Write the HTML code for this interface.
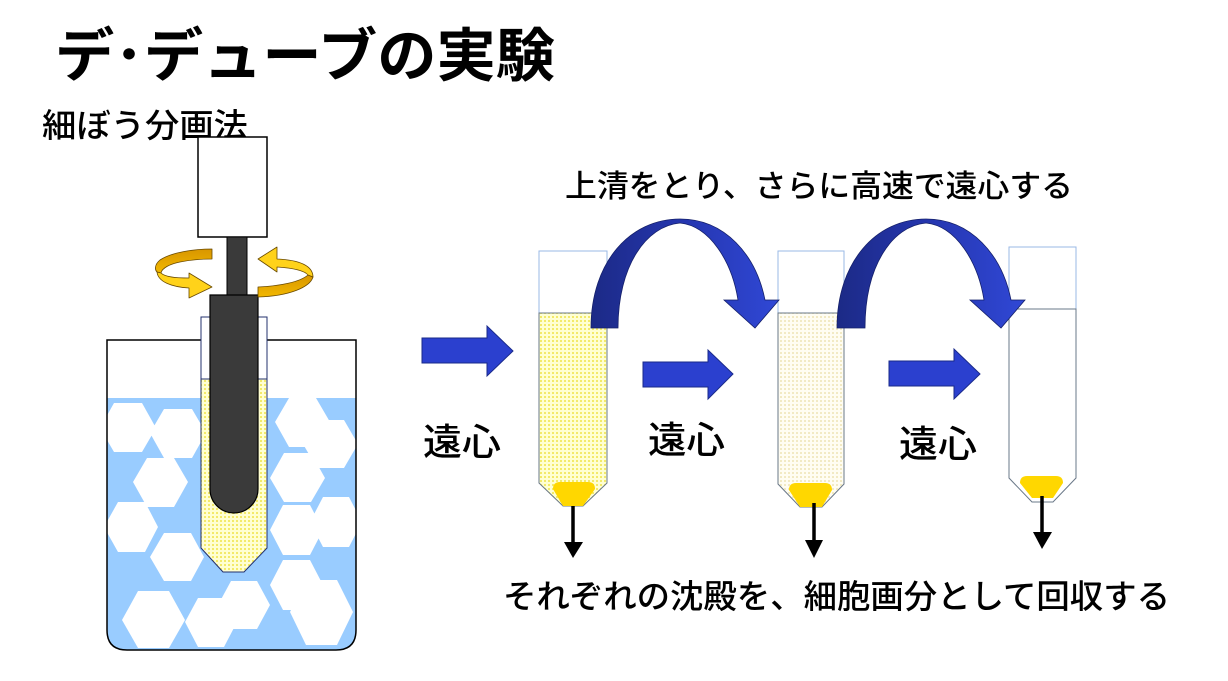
<!DOCTYPE html>
<html><head><meta charset="utf-8"><style>
html,body{margin:0;padding:0;background:#fff;}
svg{display:block;}
text{font-family:"Liberation Sans","Noto Sans CJK JP",sans-serif;fill:#000;}
.m{font-weight:500;}
</style></head><body>
<svg width="1228" height="681" viewBox="0 0 1228 681" xmlns="http://www.w3.org/2000/svg">
<defs>
<pattern id="chk" width="4" height="4" patternUnits="userSpaceOnUse"><rect width="4" height="4" fill="#ffffd2"/><rect width="2" height="2" fill="#f3ea6a"/></pattern>
<pattern id="chk2" width="4" height="4" patternUnits="userSpaceOnUse"><rect width="4" height="4" fill="#fffdf2"/><rect width="2" height="2" fill="#f2eac4"/></pattern>
<linearGradient id="arcg" x1="0" y1="0" x2="1" y2="0"><stop offset="0" stop-color="#1c2a86"/><stop offset="0.5" stop-color="#2536b0"/><stop offset="1" stop-color="#3048d6"/></linearGradient>
<linearGradient id="dg" x1="0" y1="0" x2="0" y2="1"><stop offset="0" stop-color="#d89600"/><stop offset="1" stop-color="#f2b800"/></linearGradient>
<clipPath id="bk"><path d="M107,340 L356,340 L356,630 Q356,650 336,650 L127,650 Q107,650 107,630 Z"/></clipPath>
</defs>

<!-- Titles -->
<text x="55" y="76" font-size="58" font-weight="bold" textLength="500" lengthAdjust="spacingAndGlyphs">デ･デューブの実験</text>
<text class="m" x="42" y="137" font-size="33" textLength="206" lengthAdjust="spacingAndGlyphs">細ぼう分画法</text>
<text class="m" x="565" y="197" font-size="31" textLength="508" lengthAdjust="spacingAndGlyphs">上清をとり、さらに高速で遠心する</text>
<text class="m" x="503" y="608" font-size="33" textLength="667" lengthAdjust="spacingAndGlyphs">それぞれの沈殿を、細胞画分として回収する</text>
<text class="m" x="423" y="455" font-size="37" textLength="78" lengthAdjust="spacingAndGlyphs">遠心</text>
<text class="m" x="648" y="453" font-size="37" textLength="77" lengthAdjust="spacingAndGlyphs">遠心</text>
<text class="m" x="899" y="457" font-size="37" textLength="78" lengthAdjust="spacingAndGlyphs">遠心</text>

<!-- Beaker -->
<path d="M107,340 L356,340 L356,630 Q356,650 336,650 L127,650 Q107,650 107,630 Z" fill="#fff"/>
<g clip-path="url(#bk)">
<rect x="100" y="398" width="265" height="260" fill="#99ccff"/>
<g fill="#fff">
<polygon points="100,428 114,403 142,403 156,428 142,452 114,452"/>
<polygon points="150,433 164,409 192,409 206,433 192,458 164,458"/>
<polygon points="133,482 147,458 174,458 188,482 174,507 147,507"/>
<polygon points="104,527 118,502 145,502 158,527 145,552 118,552"/>
<polygon points="150,557 164,533 191,533 204,557 191,581 164,581"/>
<polygon points="122,620 138,591 169,591 185,620 169,648 138,648"/>
<polygon points="185,622 198,598 224,598 237,622 224,647 198,647"/>
<polygon points="218,605 231,581 257,581 270,605 257,629 231,629"/>
<polygon points="275,422 289,398 316,398 330,422 316,447 289,447"/>
<polygon points="303,444 317,420 344,420 358,444 344,468 317,468"/>
<polygon points="270,478 284,453 311,453 325,478 311,502 284,502"/>
<polygon points="270,530 283,505 310,505 323,530 310,555 283,555"/>
<polygon points="310,522 323,497 349,497 362,522 349,547 323,547"/>
<polygon points="270,585 283,560 310,560 323,585 310,610 283,610"/>
<polygon points="290,612 306,580 337,580 353,612 337,645 306,645"/>
</g>
</g>
<path d="M107,340 L356,340 L356,630 Q356,650 336,650 L127,650 Q107,650 107,630 Z" fill="none" stroke="#000" stroke-width="1.5"/>

<!-- Homogenizer tube -->
<path d="M201,317 L267,317 L267,548 L244,572 L223,572 L201,548 Z" fill="#fff"/>
<path d="M201,379 L267,379 L267,548 L244,572 L223,572 L201,548 Z" fill="url(#chk)"/>
<path d="M201,317 L267,317 L267,548 L244,572 L223,572 L201,548 Z" fill="none" stroke="#23306e" stroke-width="1"/>
<line x1="201" y1="379" x2="267" y2="379" stroke="#23306e" stroke-width="1"/>

<!-- Motor & pestle -->
<rect x="198" y="137" width="69" height="100" fill="#fff" stroke="#000" stroke-width="1.5"/>
<rect x="227" y="237" width="20" height="60" fill="#3a3a3a" stroke="#000" stroke-width="1"/>
<path d="M210,295 L258,295 L258,489 A24,24 0 0 1 210,489 Z" fill="#3a3a3a" stroke="#000" stroke-width="1.2"/>

<!-- Rotation arrows -->
<g stroke="#6a4a00" stroke-width="0.8" stroke-linejoin="round">
<path d="M212,249 C195,249 172,252 160,260 C154,265 155,270 157,272 L161,273 C162,268 170,264 180,262 C190,260 200,259 212,259 Z" fill="url(#dg)"/>
<path d="M157,272 C158,282 172,287 189,288 L189,298 L212,287 L189,273 L189,278 C175,278 165,277 161,273 Z" fill="#ffd21a"/>
<path d="M258,287 C280,286 300,282 308,275 L313,277 C310,287 290,296 258,297 Z" fill="url(#dg)"/>
<path d="M313,277 C313,266 300,260 277,259 L277,247 L258,259 L277,272 L277,267 C292,268 304,270 308,275 Z" fill="#ffd21a"/>
</g>

<!-- Horizontal arrows -->
<g fill="#2b40cf" stroke="#1a2a8a" stroke-width="1">
<polygon points="422,338 487,338 487,326 513,351 487,376 487,363 422,363"/>
<polygon points="643,362 708,362 708,350 733,374 708,399 708,387 643,387"/>
<polygon points="889,361 954,361 954,349 980,374 954,399 954,386 889,386"/>
</g>

<!-- Tube 1 -->
<path d="M539,251 L607,251 L607,313 L539,313 Z" fill="#fff" stroke="#9ab8e6" stroke-width="1"/>
<path d="M539,313 L607,313 L607,483 L583,506 L563,506 L539,483 Z" fill="url(#chk)" stroke="#6a7888" stroke-width="1"/>
<path d="M553,489 Q553,482 560,482 L588,482 Q595,482 595,489 L583,506 L563,506 Z" fill="#ffd700"/>

<!-- Tube 2 -->
<path d="M778,251 L844,251 L844,313 L778,313 Z" fill="#fff" stroke="#9ab8e6" stroke-width="1"/>
<path d="M778,313 L844,313 L844,484 L822,507 L800,507 L778,484 Z" fill="url(#chk2)" stroke="#6a7888" stroke-width="1"/>
<path d="M789,490 Q789,483 796,483 L825,483 Q832,483 832,490 L822,507 L800,507 Z" fill="#ffd700"/>

<!-- Tube 3 -->
<path d="M1009,247 L1076,247 L1076,309 L1009,309 Z" fill="#fff" stroke="#9ab8e6" stroke-width="1"/>
<path d="M1009,309 L1076,309 L1076,478 L1053,502 L1032,502 L1009,478 Z" fill="#fff" stroke="#6a7888" stroke-width="1"/>
<path d="M1020,483 Q1020,476 1027,476 L1056,476 Q1063,476 1063,483 L1053,498 L1032,498 Z" fill="#ffd700"/>

<!-- Arc arrows -->
<g fill="url(#arcg)" stroke="#15206a" stroke-width="0.8">
<path d="M591,328 C591,262 630,219 680,219 C725,219 756,255 765,300 L779,300 L755,328 L724,300 L738,300 C732,262 710,226 680,223 C646,226 618,266 618,328 Z"/>
<path d="M837,328 C837,262 876,219 926,219 C971,219 1002,255 1011,300 L1025,300 L1001,328 L970,300 L984,300 C978,262 956,226 926,223 C892,226 865,266 865,328 Z"/>
</g>

<!-- Black down arrows -->
<g stroke="#000" stroke-width="3.5">
<line x1="573" y1="506" x2="573" y2="544"/>
<line x1="814" y1="503" x2="814" y2="542"/>
<line x1="1042" y1="496" x2="1042" y2="534"/>
</g>
<g fill="#000">
<polygon points="564,542 583,542 573,558"/>
<polygon points="805,540 823,540 814,558"/>
<polygon points="1033,532 1052,532 1042,549"/>
</g>
</svg>
</body></html>
